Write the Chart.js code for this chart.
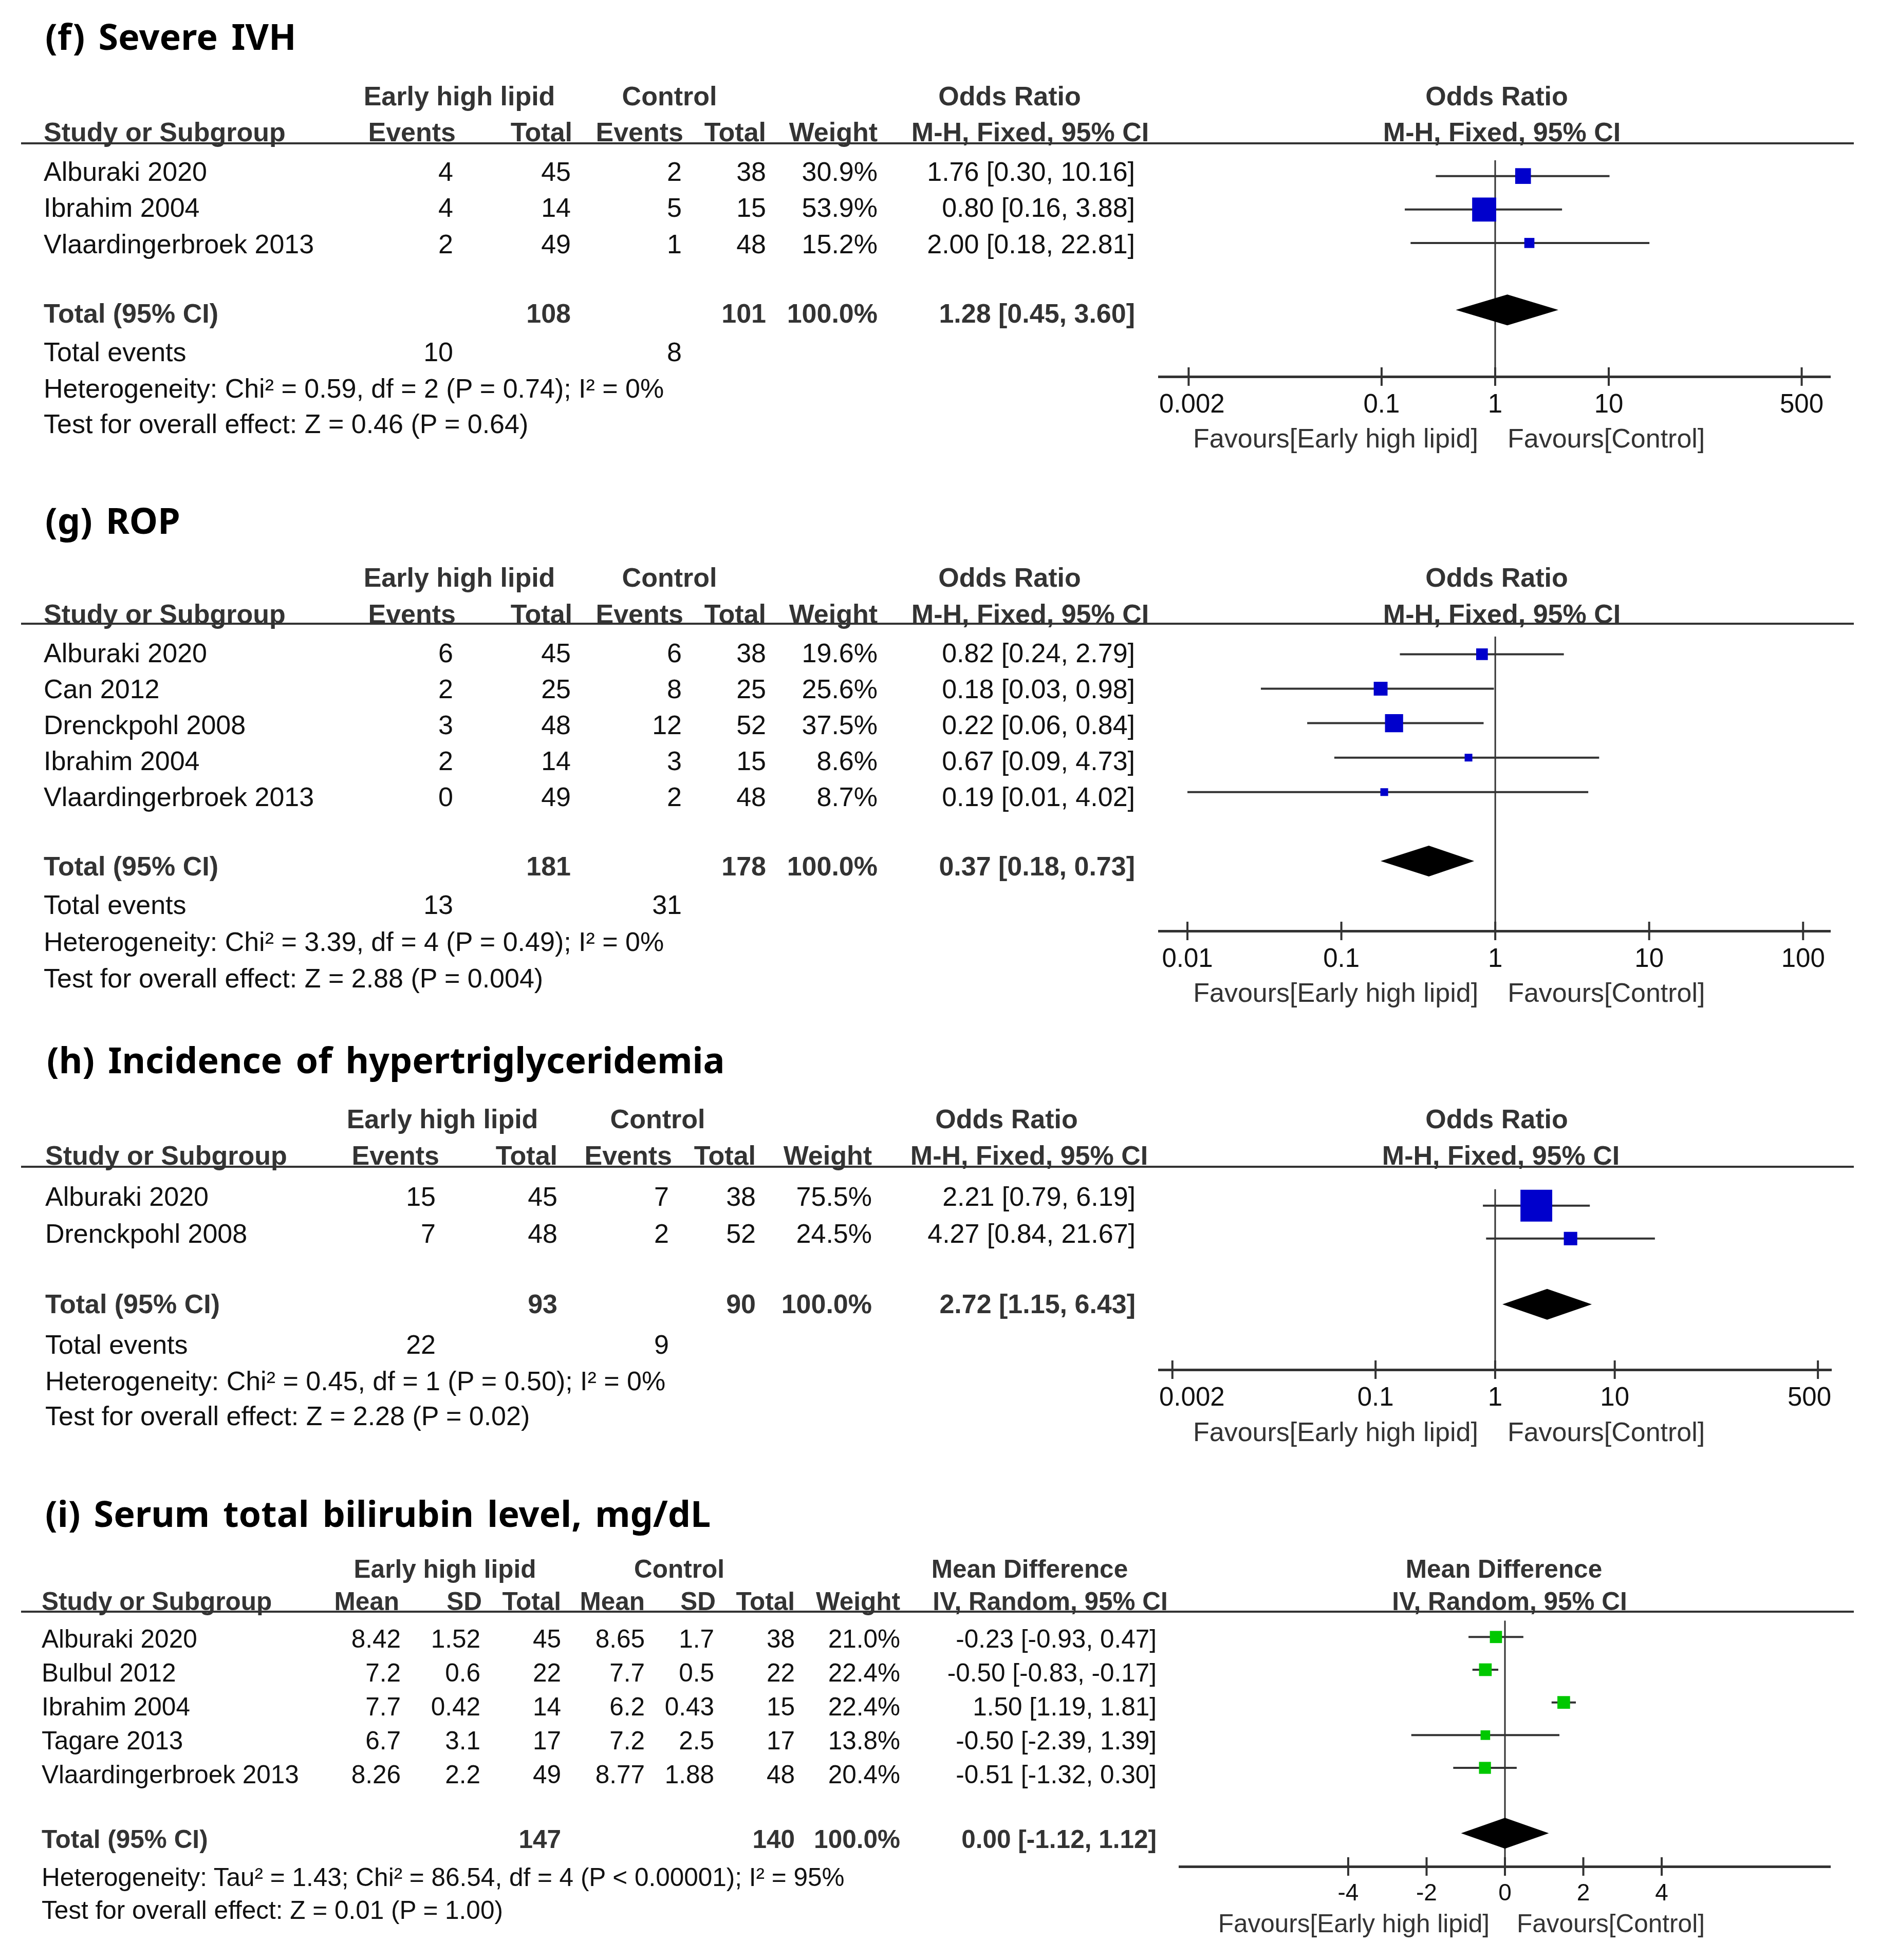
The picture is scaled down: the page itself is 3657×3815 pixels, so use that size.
<!DOCTYPE html>
<html>
<head>
<meta charset="utf-8">
<script src="https://cdn.jsdelivr.net/npm/chart.js@4.4.1/dist/chart.umd.min.js"></script>
<style>
  html, body { margin: 0; padding: 0; background: #fff; }
  #page { position: relative; width: 3657px; height: 3815px; overflow: hidden; font-family: "Liberation Sans", Arial, sans-serif; color: #111; }
  .t { position: absolute; white-space: nowrap; line-height: 1; }
  .l { transform: translate(0, -50%); }
  .r { transform: translate(-100%, -50%); }
  .c { transform: translate(-50%, -50%); }
  .b { font-weight: bold; color: #333; }
  .fav { color: #333; }
  .title { font-family: "Noto Sans", sans-serif; font-weight: bold; color: #000; font-size: 70px; word-spacing: 8px; }
  .rule { position: absolute; height: 4px; background: #333; }
  canvas { position: absolute; }
</style>
</head>
<body>
<div id="page"></div>
<script>
// (f) Severe IVH
const fStudies = ["Alburaki 2020", "Ibrahim 2004", "Vlaardingerbroek 2013"]
const fExpEvents = [4, 4, 2]
const fExpTotal = [45, 14, 49]
const fCtlEvents = [2, 5, 1]
const fCtlTotal = [38, 15, 48]
const fWeight = [30.9, 53.9, 15.2]
const fOR = [1.76, 0.80, 2.00]
const fLow = [0.30, 0.16, 0.18]
const fHigh = [10.16, 3.88, 22.81]
const fPooled = [1.28, 0.45, 3.60]
const fTotals = [108, 101]
const fEvents = [10, 8]
const fTicks = [0.002, 0.1, 1, 10, 500]

// (g) ROP
const gStudies = ["Alburaki 2020", "Can 2012", "Drenckpohl 2008", "Ibrahim 2004", "Vlaardingerbroek 2013"]
const gExpEvents = [6, 2, 3, 2, 0]
const gExpTotal = [45, 25, 48, 14, 49]
const gCtlEvents = [6, 8, 12, 3, 2]
const gCtlTotal = [38, 25, 52, 15, 48]
const gWeight = [19.6, 25.6, 37.5, 8.6, 8.7]
const gOR = [0.82, 0.18, 0.22, 0.67, 0.19]
const gLow = [0.24, 0.03, 0.06, 0.09, 0.01]
const gHigh = [2.79, 0.98, 0.84, 4.73, 4.02]
const gPooled = [0.37, 0.18, 0.73]
const gTotals = [181, 178]
const gEvents = [13, 31]
const gTicks = [0.01, 0.1, 1, 10, 100]

// (h) Incidence of hypertriglyceridemia
const hStudies = ["Alburaki 2020", "Drenckpohl 2008"]
const hExpEvents = [15, 7]
const hExpTotal = [45, 48]
const hCtlEvents = [7, 2]
const hCtlTotal = [38, 52]
const hWeight = [75.5, 24.5]
const hOR = [2.21, 4.27]
const hLow = [0.79, 0.84]
const hHigh = [6.19, 21.67]
const hPooled = [2.72, 1.15, 6.43]
const hTotals = [93, 90]
const hEvents = [22, 9]
const hTicks = [0.002, 0.1, 1, 10, 500]

// (i) Serum total bilirubin level
const iStudies = ["Alburaki 2020", "Bulbul 2012", "Ibrahim 2004", "Tagare 2013", "Vlaardingerbroek 2013"]
const iExpMean = [8.42, 7.2, 7.7, 6.7, 8.26]
const iExpSD = [1.52, 0.6, 0.42, 3.1, 2.2]
const iExpTotal = [45, 22, 14, 17, 49]
const iCtlMean = [8.65, 7.7, 6.2, 7.2, 8.77]
const iCtlSD = [1.7, 0.5, 0.43, 2.5, 1.88]
const iCtlTotal = [38, 22, 15, 17, 48]
const iWeight = [21.0, 22.4, 22.4, 13.8, 20.4]
const iMD = [-0.23, -0.50, 1.50, -0.50, -0.51]
const iLow = [-0.93, -0.83, 1.19, -2.39, -1.32]
const iHigh = [0.47, -0.17, 1.81, 1.39, 0.30]
const iPooled = [0.00, -1.12, 1.12]
const iTotals = [147, 140]
const iTicks = [-4, -2, 0, 2, 4]

// Layout (pixels in the page)
const colsFG = {
  studyX: 85, groupX: [894, 1303, 1965], colHeadX: [887, 1114, 1330, 1491, 1708], ciHeadX: 2005,
  colX: [882, 1111, 1327, 1491, 1708, 2209], plotLeft: 2256, plotRight: 3562, plotHeadX: [2913, 2923],
  font: 52, tickFont: 51, tickDy: 56, favDy: 120, favGap: [33, 24]
}
const layoutF = Object.assign({}, colsFG, {
  titleX: 88, titleY: 70, head1Y: 187, head2Y: 257, lineY: 279, row0: 312, step: 70.25, textDy: 22,
  totalY: 610, eventsY: 685, hetY: 756, testY: 825, axisY: 733, xMin: 0.0011, xMax: 891
})
const layoutG = Object.assign({}, colsFG, {
  titleX: 88, titleY: 1012, head1Y: 1124, head2Y: 1195, lineY: 1214, row0: 1250, step: 70, textDy: 21,
  totalY: 1686, eventsY: 1761, hetY: 1833, testY: 1904, axisY: 1812, xMin: 0.00655, xMax: 150
})
const layoutH = {
  studyX: 88, groupX: [861, 1280, 1959], colHeadX: [855, 1085, 1308, 1471, 1697], ciHeadX: 2003,
  colX: [848, 1085, 1302, 1471, 1697, 2210], plotLeft: 2256, plotRight: 3564, plotHeadX: [2913, 2921],
  font: 52, tickFont: 51, tickDy: 56, favDy: 121, favGap: [33, 24],
  titleX: 91, titleY: 2062, head1Y: 2178, head2Y: 2249, lineY: 2271, row0: 2307, step: 72, textDy: 22,
  totalY: 2538, eventsY: 2617, hetY: 2688, testY: 2756, axisY: 2666, xMin: 0.00155, xMax: 646
}
const layoutI = {
  studyX: 81, groupX: [866, 1322, 2004], colHeadX: [777, 938, 1092, 1255, 1393, 1547, 1752], ciHeadX: 2044,
  colX: [780, 935, 1092, 1255, 1390, 1547, 1752, 2251], plotLeft: 2296, plotRight: 3562, plotHeadX: [2927, 2938],
  font: 49.5, tickFont: 46, tickDy: 53, favDy: 111, favGap: [30, 23],
  titleX: 88, titleY: 2945, head1Y: 3054, head2Y: 3117, lineY: 3137, row0: 3170, step: 66, textDy: 20,
  totalY: 3580, eventsY: null, hetY: 3654, testY: 3718, axisY: 3633, xMin: -8.3, xMax: 8.3
}

const page = document.getElementById("page")

function text(str, x, y, align, cls, size) {
  const el = document.createElement("div")
  el.className = "t " + align + (cls ? " " + cls : "")
  el.textContent = str
  el.style.left = x + "px"
  el.style.top = y + "px"
  if (size) el.style.fontSize = size + "px"
  page.appendChild(el)
  return el
}

function rule(x1, x2, y) {
  const el = document.createElement("div")
  el.className = "rule"
  el.style.left = x1 + "px"
  el.style.width = (x2 - x1) + "px"
  el.style.top = (y - 2) + "px"
  page.appendChild(el)
}

const ci = (est, lo, hi) => `${est.toFixed(2)} [${lo.toFixed(2)}, ${hi.toFixed(2)}]`

// Draws whiskers, the line of no effect, the pooled diamond and the axis ticks
function forestPlugin(spec, L) {
  return {
    id: "forest",
    beforeDatasetsDraw(chart) {
      const { ctx, chartArea, scales: { x, y } } = chart
      ctx.save()
      const x0 = x.getPixelForValue(spec.nullValue)
      ctx.strokeStyle = "#333"
      ctx.lineWidth = 3
      ctx.beginPath()
      ctx.moveTo(x0, chartArea.top)
      ctx.lineTo(x0, chartArea.bottom)
      ctx.stroke()
      ctx.lineWidth = 4
      spec.low.forEach((lo, i) => {
        const py = y.getPixelForValue(i)
        ctx.beginPath()
        ctx.moveTo(x.getPixelForValue(lo), py)
        ctx.lineTo(x.getPixelForValue(spec.high[i]), py)
        ctx.stroke()
      })
      ctx.restore()
    },
    afterDatasetsDraw(chart) {
      const { ctx, chartArea, scales: { x, y } } = chart
      ctx.save()
      // pooled estimate
      const yc = y.getPixelForValue(spec.est.length + 1)
      const half = 30
      ctx.fillStyle = "#000"
      ctx.beginPath()
      ctx.moveTo(x.getPixelForValue(spec.pooled[1]), yc)
      ctx.lineTo(x.getPixelForValue(spec.pooled[0]), yc - half)
      ctx.lineTo(x.getPixelForValue(spec.pooled[2]), yc)
      ctx.lineTo(x.getPixelForValue(spec.pooled[0]), yc + half)
      ctx.closePath()
      ctx.fill()
      // tick marks crossing the axis, labels kept inside the axis ends
      ctx.strokeStyle = "#333"
      ctx.lineWidth = 4
      ctx.fillStyle = "#111"
      ctx.font = `${L.tickFont}px "Liberation Sans", Arial, sans-serif`
      ctx.textAlign = "center"
      ctx.textBaseline = "middle"
      x.ticks.forEach((t) => {
        const px = x.getPixelForValue(t.value)
        ctx.beginPath()
        ctx.moveTo(px, chartArea.bottom - 18)
        ctx.lineTo(px, chartArea.bottom + 18)
        ctx.stroke()
        const label = t.label != null ? String(t.label) : String(t.value)
        const half = ctx.measureText(label).width / 2
        const lx = Math.min(Math.max(px, chartArea.left + half), chartArea.right - half)
        ctx.fillText(label, lx, chartArea.bottom + L.tickDy)
      })
      ctx.restore()
    },
  }
}

function forestChart(L, spec) {
  const padX = 60
  const scaleH = 110
  const w = L.plotRight - L.plotLeft + padX * 2
  const h = L.axisY - L.lineY + scaleH
  const canvas = document.createElement("canvas")
  canvas.width = w
  canvas.height = h
  canvas.style.left = (L.plotLeft - padX) + "px"
  canvas.style.top = L.lineY + "px"
  canvas.style.width = w + "px"
  canvas.style.height = h + "px"
  page.appendChild(canvas)

  const side = (c) => (9 + 0.7 * spec.weight[c.dataIndex]) / Math.SQRT2

  const chart = new Chart(canvas, {
    type: "scatter",
    data: {
      datasets: [
        {
          data: spec.est.map((v, i) => ({ x: v, y: i })),
          pointStyle: "rect",
          pointRadius: side,
          pointHoverRadius: side,
          backgroundColor: spec.color,
          borderWidth: 0,
        },
      ],
    },
    options: {
      responsive: false,
      animation: false,
      devicePixelRatio: 1,
      events: [],
      clip: false,
      layout: { padding: { left: padX, right: padX, top: 0, bottom: 0 } },
      plugins: { legend: { display: false }, tooltip: { enabled: false } },
      scales: {
        x: {
          type: spec.log ? "logarithmic" : "linear",
          min: L.xMin,
          max: L.xMax,
          grid: { display: false, drawTicks: false },
          border: { display: true, color: "#333", width: 5 },
          afterBuildTicks: (axis) => {
            axis.ticks = spec.ticks.map((v) => ({ value: v }))
          },
          afterFit: (axis) => {
            axis.height = scaleH
          },
          ticks: {
            display: false,
            autoSkip: false,
            callback: (v) => String(v),
          },
        },
        y: {
          type: "linear",
          display: false,
          reverse: true,
          min: -(L.row0 - L.lineY) / L.step,
          max: (L.axisY - L.row0) / L.step,
        },
      },
    },
    plugins: [forestPlugin(spec, L)],
  })

  // favour labels either side of the line of no effect
  const nullX = L.plotLeft - padX + chart.scales.x.getPixelForValue(spec.nullValue)
  const favY = L.axisY + L.favDy
  text("Favours[Early high lipid]", nullX - L.favGap[0], favY, "r", "fav", L.font)
  text("Favours[Control]", nullX + L.favGap[1], favY, "l", "fav", L.font)
  return chart
}

function panel(L, spec) {
  text(spec.title, L.titleX, L.titleY, "l", "title")
  spec.groups.forEach((g, i) => text(g, L.groupX[i], L.head1Y, "c", "b", L.font))
  text(spec.groups[2], L.plotHeadX[0], L.head1Y, "c", "b", L.font)
  text("Study or Subgroup", L.studyX, L.head2Y, "l", "b", L.font)
  spec.colHeads.forEach((h, i) => text(h, L.colHeadX[i], L.head2Y, "r", "b", L.font))
  text(spec.ciHead, L.ciHeadX, L.head2Y, "c", "b", L.font)
  text(spec.ciHead, L.plotHeadX[1], L.head2Y, "c", "b", L.font)
  rule(41, 3608, L.lineY)

  spec.rows.forEach((cells, r) => {
    const y = L.row0 + L.textDy + r * L.step
    text(spec.studies[r], L.studyX, y, "l", "", L.font)
    cells.forEach((c, k) => text(c, L.colX[k], y, "r", "", L.font))
  })

  text("Total (95% CI)", L.studyX, L.totalY, "l", "b", L.font)
  spec.totalCells.forEach((c, k) => {
    if (c !== "") text(c, L.colX[k], L.totalY, "r", "b", L.font)
  })
  if (spec.events) {
    text("Total events", L.studyX, L.eventsY, "l", "", L.font)
    text(String(spec.events[0]), L.colX[0], L.eventsY, "r", "", L.font)
    text(String(spec.events[1]), L.colX[2], L.eventsY, "r", "", L.font)
  }
  text(spec.het, L.studyX, L.hetY, "l", "", L.font)
  text(spec.test, L.studyX, L.testY, "l", "", L.font)

  forestChart(L, spec)
}

function orRows(studies, ee, et, ce, ct, wt, est, lo, hi) {
  return studies.map((s, i) => [
    String(ee[i]), String(et[i]), String(ce[i]), String(ct[i]),
    wt[i].toFixed(1) + "%", ci(est[i], lo[i], hi[i]),
  ])
}

const orHeads = ["Events", "Total", "Events", "Total", "Weight"]

panel(layoutF, {
  title: "(f) Severe IVH",
  groups: ["Early high lipid", "Control", "Odds Ratio"],
  colHeads: orHeads,
  ciHead: "M-H, Fixed, 95% CI",
  studies: fStudies,
  rows: orRows(fStudies, fExpEvents, fExpTotal, fCtlEvents, fCtlTotal, fWeight, fOR, fLow, fHigh),
  totalCells: ["", String(fTotals[0]), "", String(fTotals[1]), "100.0%", ci(fPooled[0], fPooled[1], fPooled[2])],
  events: fEvents,
  het: "Heterogeneity: Chi² = 0.59, df = 2 (P = 0.74); I² = 0%",
  test: "Test for overall effect: Z = 0.46 (P = 0.64)",
  est: fOR, low: fLow, high: fHigh, weight: fWeight, pooled: fPooled,
  ticks: fTicks, log: true, nullValue: 1, color: "#0000cc",
})

panel(layoutG, {
  title: "(g) ROP",
  groups: ["Early high lipid", "Control", "Odds Ratio"],
  colHeads: orHeads,
  ciHead: "M-H, Fixed, 95% CI",
  studies: gStudies,
  rows: orRows(gStudies, gExpEvents, gExpTotal, gCtlEvents, gCtlTotal, gWeight, gOR, gLow, gHigh),
  totalCells: ["", String(gTotals[0]), "", String(gTotals[1]), "100.0%", ci(gPooled[0], gPooled[1], gPooled[2])],
  events: gEvents,
  het: "Heterogeneity: Chi² = 3.39, df = 4 (P = 0.49); I² = 0%",
  test: "Test for overall effect: Z = 2.88 (P = 0.004)",
  est: gOR, low: gLow, high: gHigh, weight: gWeight, pooled: gPooled,
  ticks: gTicks, log: true, nullValue: 1, color: "#0000cc",
})

panel(layoutH, {
  title: "(h) Incidence of hypertriglyceridemia",
  groups: ["Early high lipid", "Control", "Odds Ratio"],
  colHeads: orHeads,
  ciHead: "M-H, Fixed, 95% CI",
  studies: hStudies,
  rows: orRows(hStudies, hExpEvents, hExpTotal, hCtlEvents, hCtlTotal, hWeight, hOR, hLow, hHigh),
  totalCells: ["", String(hTotals[0]), "", String(hTotals[1]), "100.0%", ci(hPooled[0], hPooled[1], hPooled[2])],
  events: hEvents,
  het: "Heterogeneity: Chi² = 0.45, df = 1 (P = 0.50); I² = 0%",
  test: "Test for overall effect: Z = 2.28 (P = 0.02)",
  est: hOR, low: hLow, high: hHigh, weight: hWeight, pooled: hPooled,
  ticks: hTicks, log: true, nullValue: 1, color: "#0000cc",
})

panel(layoutI, {
  title: "(i) Serum total bilirubin level, mg/dL",
  groups: ["Early high lipid", "Control", "Mean Difference"],
  colHeads: ["Mean", "SD", "Total", "Mean", "SD", "Total", "Weight"],
  ciHead: "IV, Random, 95% CI",
  studies: iStudies,
  rows: iStudies.map((s, i) => [
    String(iExpMean[i]), String(iExpSD[i]), String(iExpTotal[i]),
    String(iCtlMean[i]), String(iCtlSD[i]), String(iCtlTotal[i]),
    iWeight[i].toFixed(1) + "%", ci(iMD[i], iLow[i], iHigh[i]),
  ]),
  totalCells: ["", "", String(iTotals[0]), "", "", String(iTotals[1]), "100.0%", ci(iPooled[0], iPooled[1], iPooled[2])],
  events: null,
  het: "Heterogeneity: Tau² = 1.43; Chi² = 86.54, df = 4 (P < 0.00001); I² = 95%",
  test: "Test for overall effect: Z = 0.01 (P = 1.00)",
  est: iMD, low: iLow, high: iHigh, weight: iWeight, pooled: iPooled,
  ticks: iTicks, log: false, nullValue: 0, color: "#00c800",
})
</script>
</body>
</html>
